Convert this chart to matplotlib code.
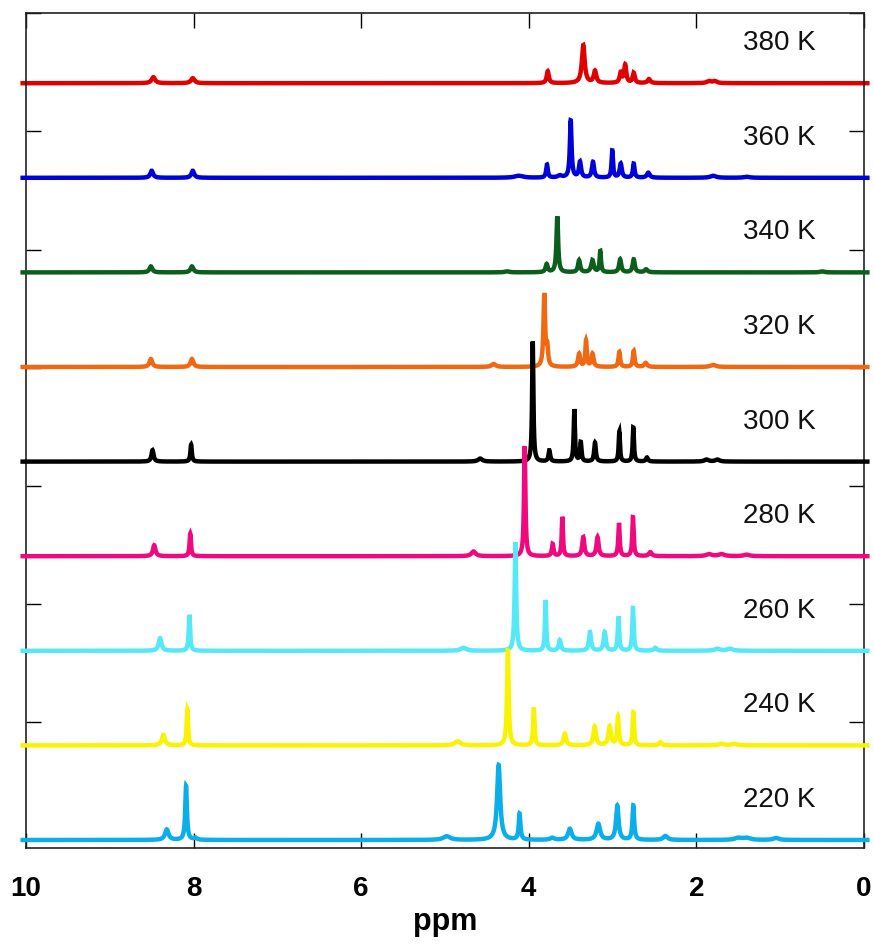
import numpy as np
import matplotlib
matplotlib.use("Agg")
import matplotlib.pyplot as plt

plt.rcParams['font.family'] = ['Liberation Sans', 'DejaVu Sans']

# Temperatures (top to bottom) and colours
temps = [380, 360, 340, 320, 300, 280, 260, 240, 220]
colors = ['#E00000', '#0000D8', '#0B5E1C', '#F06812', '#000000',
          '#F0097E', '#55E9F7', '#F9F300', '#0AAEE8']

# Peaks: (ppm, height [px-like units], half width [ppm])
peaks_380 = [(8.48, 6, 0.025), (8.01, 5, 0.025), (3.774, 12, 0.015), (3.35, 38, 0.02),
             (3.21, 12, 0.018), (2.903, 10, 0.015), (2.85, 18, 0.015), (2.748, 10, 0.015),
             (2.566, 4, 0.02), (1.85, 2, 0.03), (1.78, 2, 0.03)]
peaks_360 = [(8.50, 7, 0.02), (8.01, 7, 0.02), (4.12, 2, 0.06), (3.783, 13, 0.012),
             (3.63, 2, 0.03), (3.50, 57, 0.012), (3.389, 15.7, 0.015), (3.234, 15.7, 0.015),
             (3.004, 27, 0.01), (2.903, 14, 0.015), (2.748, 14, 0.012), (2.574, 5, 0.02),
             (1.80, 2, 0.04), (1.40, 1, 0.04)]
peaks_340 = [(8.51, 6, 0.02), (8.02, 6, 0.02), (4.26, 1, 0.03), (3.787, 8, 0.015),
             (3.66, 56, 0.012), (3.40, 12, 0.015), (3.24, 12, 0.018), (3.147, 21, 0.01),
             (2.91, 13, 0.015), (2.748, 13, 0.015), (2.60, 3, 0.02), (0.5, 1, 0.03)]
peaks_320 = [(8.51, 8, 0.02), (8.02, 8, 0.02), (4.42, 3, 0.03), (3.815, 72, 0.012),
             (3.78, 18, 0.012), (3.40, 13, 0.015), (3.317, 26, 0.01), (3.24, 13, 0.015),
             (2.92, 15, 0.012), (2.748, 16, 0.012), (2.605, 4, 0.02), (1.80, 2, 0.04)]
peaks_300 = [(8.49, 11.5, 0.015), (8.03, 17, 0.01), (4.58, 3, 0.03), (3.953, 120, 0.009),
             (3.755, 11, 0.012), (3.457, 52, 0.009), (3.38, 19, 0.01), (3.21, 19, 0.012),
             (2.92, 30, 0.009), (2.753, 34, 0.009), (2.59, 4, 0.015), (1.88, 2, 0.03),
             (1.75, 2, 0.03)]
peaks_280 = [(8.47, 11, 0.018), (8.04, 22.6, 0.01), (4.66, 4.7, 0.03), (4.049, 110, 0.01),
             (3.715, 12, 0.012), (3.60, 39, 0.009), (3.35, 19, 0.015), (3.18, 19, 0.015),
             (2.924, 33, 0.01), (2.757, 39, 0.01), (2.55, 4, 0.02), (1.85, 2, 0.04),
             (1.70, 2, 0.04), (1.40, 1.5, 0.04)]
peaks_260 = [(8.40, 12.6, 0.02), (8.05, 36, 0.01), (4.78, 3, 0.04), (4.16, 108.7, 0.011),
             (3.80, 50.7, 0.009), (3.63, 10.7, 0.015), (3.27, 18.7, 0.015), (3.094, 18.7, 0.015),
             (2.93, 34, 0.01), (2.757, 42.7, 0.01), (2.49, 3, 0.02), (1.75, 2, 0.04),
             (1.60, 2, 0.04)]
peaks_240 = [(8.36, 10.5, 0.022), (8.075, 36, 0.01), (4.85, 4, 0.04), (4.25, 95, 0.012),
             (3.94, 37.7, 0.01), (3.57, 11.7, 0.018), (3.214, 18.7, 0.018), (3.035, 18.7, 0.018),
             (2.936, 28.7, 0.012), (2.753, 33, 0.01), (2.43, 3, 0.02), (1.70, 1.5, 0.04),
             (1.55, 1.5, 0.04)]
peaks_220 = [(8.32, 10.5, 0.025), (8.09, 54, 0.012), (7.98, 2, 0.02), (4.98, 3.7, 0.05),
             (4.36, 75, 0.022), (4.11, 26, 0.012), (3.72, 2, 0.03), (3.51, 11, 0.025),
             (3.17, 16, 0.025), (2.944, 34.3, 0.018), (2.753, 34.3, 0.012), (2.37, 4, 0.03),
             (1.50, 2, 0.05), (1.40, 2, 0.05), (1.05, 2, 0.04)]

all_peaks = [peaks_380, peaks_360, peaks_340, peaks_320, peaks_300,
             peaks_280, peaks_260, peaks_240, peaks_220]

spacing = 94.6
xticks = [10, 8, 6, 4, 2, 0]

fig = plt.figure(figsize=(8.74, 9.48), dpi=100)
ax = fig.add_axes([26/874, 100/948, 838/874, 835/948])

x = np.linspace(10.04, -0.04, 10000)
n = len(temps)
for i, (T, col, pk) in enumerate(zip(temps, colors, all_peaks)):
    off = (n - 1 - i) * spacing
    y = np.zeros_like(x)
    for p, h, w in pk:
        y += h * w**2 / ((x - p)**2 + w**2)
    ax.plot(x, y + off, color=col, lw=3.2, clip_on=False, zorder=2 + i,
            solid_joinstyle='miter')
    ax.text(1.44, off + 40, f'{T} K', fontsize=20, ha='left', va='center',
            color='#111111')

ax.set_xlim(10, 0)
ax.set_ylim(-8, 827)
ax.set_xticks(xticks)
ax.set_xticklabels([str(t) for t in xticks], fontsize=20, fontweight='bold')
ax.set_yticks(np.arange(0, 828, 118.1))
ax.tick_params(axis='both', direction='in', length=10.5, width=1, top=True, right=True,
               labelleft=False, pad=20)
ax.set_xlabel('ppm', fontsize=22, fontweight='bold', labelpad=4)
for s in ax.spines.values():
    s.set_linewidth(1.2)
    s.set_color('#222222')

fig.savefig('out.png', dpi=100)
